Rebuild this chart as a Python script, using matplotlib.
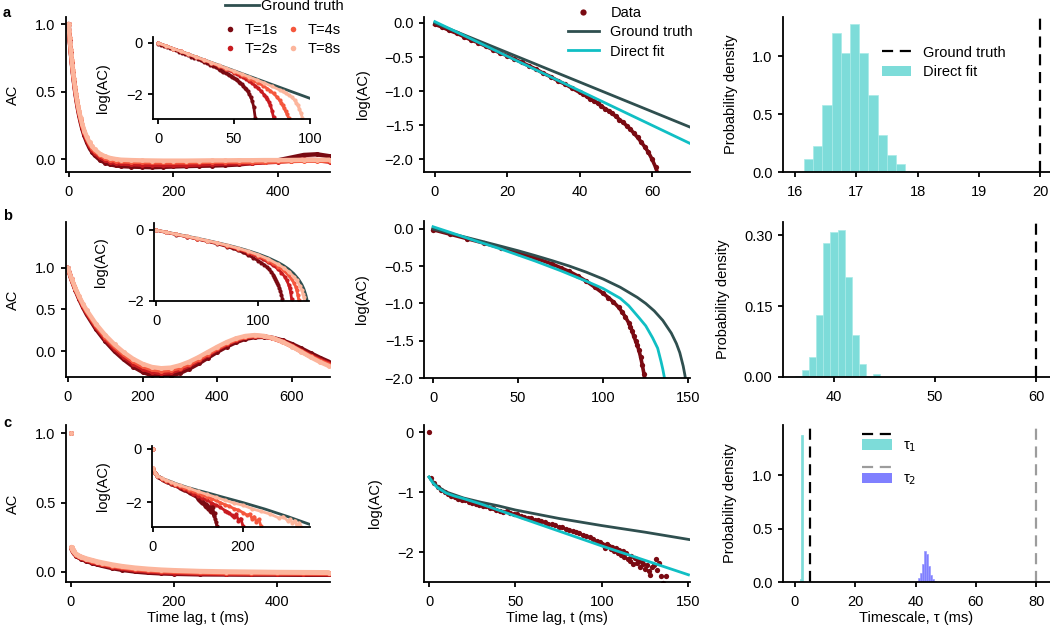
import matplotlib
matplotlib.use("Agg")
from matplotlib import pyplot as plt
from matplotlib.lines import Line2D
from matplotlib.patches import Patch, Rectangle
from matplotlib.legend_handler import HandlerBase
import numpy as np


plt.rcParams['font.family'] = ['Liberation Sans', 'DejaVu Sans']
plt.rcParams['font.size'] = 10
plt.rcParams['axes.linewidth'] = 1.3
plt.rcParams['xtick.major.width'] = 1.3
plt.rcParams['ytick.major.width'] = 1.3
plt.rcParams['xtick.major.size'] = 3.5
plt.rcParams['ytick.major.size'] = 3.5
plt.rcParams['xtick.labelsize'] = 10.5
plt.rcParams['ytick.labelsize'] = 10.5
plt.rcParams['axes.labelsize'] = 10.5
plt.rcParams['legend.fontsize'] = 10.5

W, H = 1050, 634

# colours
T_COLORS = ['#7a0a12', '#c81b20', '#f5573d', '#fcb59c']
T_LABELS = ['T=1s', 'T=2s', 'T=4s', 'T=8s']
GT_COLOR = '#2f4f4f'
FIT_COLOR = '#10bfc4'
HIST_CYAN = '#7ddcd9'
HIST_BLUE = '#8080ff'

# ---------------- row a : exponential, tau = 20 ms ----------------
LAG_A = [0, 1, 2, 3, 4, 5, 6, 7, 8, 9, 10, 12, 14, 16, 18, 20, 23, 26, 30, 35, 40, 45, 50,
         60, 70, 80, 90, 100, 120, 140, 160, 180, 200, 225, 250, 275, 300, 325, 350,
         375, 400, 425, 450, 475, 500]
AC_A_T1 = [1.0, .938, .888, .841, .797, .756, .716, .678, .642, .608, .577, .515, .461, .412,
           .368, .327, .274, .227, .175, .125, .083, .052, .028, -.006, -.027, -.04, -.047,
           -.052, -.056, -.058, -.06, -.058, -.055, -.052, -.05, -.048, -.045, -.04, -.03,
           -.02, -.01, .01, .03, .035, .02]
AC_A_T2 = [1.0, .941, .892, .846, .802, .762, .722, .685, .649, .616, .585, .524, .471, .423,
           .379, .339, .287, .241, .19, .141, .1, .07, .046, .013, -.008, -.02, -.028, -.033,
           -.038, -.041, -.043, -.045, -.046, -.044, -.04, -.036, -.033, -.032, -.03, -.025,
           -.02, -.012, -.005, -.008, -.02]
AC_A_T4 = [1.0, .943, .895, .849, .806, .766, .727, .69, .655, .622, .591, .531, .479, .431,
           .388, .349, .297, .252, .202, .153, .113, .083, .06, .028, .008, -.005, -.012,
           -.017, -.02, -.022, -.024, -.025, -.025, -.024, -.022, -.02, -.019, -.02, -.021,
           -.02, -.018, -.015, -.012, -.012, -.015]
AC_A_T8 = [1.0, .945, .898, .852, .81, .77, .731, .694, .659, .627, .596, .537, .485, .437,
           .395, .356, .305, .261, .211, .162, .123, .093, .071, .039, .019, .007, .0, -.005,
           -.008, -.01, -.011, -.012, -.012, -.012, -.011, -.010, -.010, -.009, -.009, -.008,
           -.008, -.007, -.006, -.006, -.005]

LAG_A1 = [0, 2, 4, 6, 8, 10, 12, 14, 16, 18, 20, 22, 24, 26, 28, 30, 32, 34, 36, 38, 40,
          41, 42, 43, 44, 45, 46, 47, 48, 49, 50, 51, 52, 53, 54, 55, 56, 57, 58, 59, 60,
          61, 62, 63, 64]
LOG_A_T1 = [-0.02, -0.06, -0.11, -0.15, -0.2, -0.25, -0.29, -0.34, -0.39, -0.44, -0.48,
            -0.53, -0.58, -0.63, -0.68, -0.74, -0.79, -0.85, -0.9, -0.96, -1.02,
            -1.05, -1.08, -1.12, -1.15, -1.18, -1.22, -1.26, -1.29, -1.33, -1.37, -1.42,
            -1.46, -1.51, -1.56, -1.62, -1.68, -1.75, -1.82, -1.9, -2.0, -2.12, -2.28,
            -2.51, -2.95]
LAG_A2 = [0, 5, 10, 15, 20, 25, 30, 35, 40, 45, 50, 52, 54, 56, 58, 60, 62, 64, 66, 68, 70,
          71, 72, 73, 74, 75, 76]
LOG_A_T2 = [0, -0.11, -0.222, -0.333, -0.445, -0.56, -0.675, -0.79, -0.91, -1.035, -1.17,
            -1.23, -1.29, -1.35, -1.42, -1.5, -1.58, -1.68, -1.78, -1.9, -2.04, -2.12, -2.2,
            -2.32, -2.45, -2.65, -2.92]
LAG_A4 = [0, 5, 10, 15, 20, 25, 30, 35, 40, 45, 50, 55, 60, 63, 66, 69, 72, 74, 76, 78, 80,
          81, 82, 83, 84, 85, 86]
LOG_A_T4 = [0, -0.11, -0.22, -0.33, -0.44, -0.553, -0.665, -0.78, -0.895, -1.01, -1.13,
            -1.26, -1.4, -1.48, -1.57, -1.67, -1.79, -1.88, -1.98, -2.1, -2.25, -2.34, -2.45,
            -2.55, -2.68, -2.8, -2.95]
LAG_A8 = [0, 5, 10, 15, 20, 25, 30, 35, 40, 45, 50, 55, 60, 65, 70, 75, 80, 82, 84, 86, 88,
          90, 91, 92, 93, 94, 95]
LOG_A_T8 = [0, -0.109, -0.218, -0.327, -0.437, -0.546, -0.655, -0.765, -0.875, -0.99, -1.1,
            -1.215, -1.33, -1.45, -1.57, -1.7, -1.84, -1.9, -1.97, -2.04, -2.12, -2.25, -2.34,
            -2.45, -2.58, -2.75, -2.93]
GT_LAG_A = [0, 100]
GT_LOG_A = [0, -2.17]
FIT_LAG_A = [0, 70.5]
FIT_LOG_A = [0.02, -1.77]
HIST_A_EDGES = [16.15, 16.30, 16.45, 16.60, 16.75, 16.90, 17.05, 17.20, 17.35, 17.50, 17.65,
                17.80, 17.95]
HIST_A_DENS = [0.115, 0.224, 0.575, 1.20, 1.03, 1.28, 1.03, 0.664, 0.316, 0.147, 0.066, 0.008]
TAU_A_TRUE = 20

# ---------------- row b : oscillation ----------------
LAG_B = [0, 10, 20, 30, 40, 50, 75, 100, 125, 150, 175, 200, 225, 250, 275, 300, 325, 350,
         375, 400, 425, 450, 475, 500, 525, 550, 575, 600, 625, 650, 675, 700]
AC_B_T1 = [1.0, 0.855, 0.735, 0.628, 0.532, 0.446, 0.268, 0.122, 0.0, -0.1, -0.185, -0.248,
           -0.29, -0.305, -0.295, -0.262, -0.21, -0.148, -0.078, -0.008, 0.055, 0.108, 0.148,
           0.168, 0.172, 0.158, 0.128, 0.085, 0.032, -0.025, -0.08, -0.13]
AC_B_T2 = [1.0, 0.86, 0.744, 0.64, 0.547, 0.465, 0.292, 0.15, 0.03, -0.068, -0.15, -0.21,
           -0.248, -0.262, -0.252, -0.22, -0.172, -0.112, -0.045, 0.022, 0.082, 0.132, 0.166,
           0.18, 0.176, 0.154, 0.116, 0.065, 0.006, -0.053, -0.105, -0.15]
AC_B_T4 = [1.0, 0.864, 0.751, 0.649, 0.559, 0.479, 0.31, 0.172, 0.056, -0.04, -0.12, -0.18,
           -0.219, -0.234, -0.226, -0.197, -0.152, -0.095, -0.03, 0.035, 0.093, 0.14, 0.172,
           0.185, 0.178, 0.153, 0.112, 0.058, -0.003, -0.064, -0.118, -0.165]
AC_B_T8 = [1.0, 0.868, 0.757, 0.658, 0.571, 0.494, 0.328, 0.193, 0.08, -0.015, -0.093, -0.152,
           -0.19, -0.205, -0.198, -0.17, -0.127, -0.072, -0.01, 0.052, 0.108, 0.153, 0.182,
           0.193, 0.183, 0.156, 0.112, 0.055, -0.008, -0.072, -0.13, -0.18]

LAG_B1 = [0, 10, 20, 30, 40, 50, 60, 70, 75, 80, 85, 90, 95, 100, 103, 106, 109, 111, 113,
          115, 116, 117, 118, 119, 120, 121, 122, 123, 124, 125]
LOG_B_T1 = [-0.01, -0.07, -0.13, -0.19, -0.255, -0.32, -0.39, -0.47, -0.52, -0.57, -0.63,
            -0.7, -0.78, -0.865, -0.92, -0.98, -1.05, -1.11, -1.18, -1.26, -1.31, -1.37,
            -1.44, -1.5, -1.56, -1.63, -1.72, -1.83, -1.95, -2.1]
LAG_B2 = [0, 10, 20, 30, 40, 50, 60, 70, 80, 90, 100, 105, 110, 115, 120, 123, 126, 128, 130,
          131, 132, 133, 134]
LOG_B_T2 = [0, -0.066, -0.125, -0.187, -0.25, -0.31, -0.375, -0.45, -0.535, -0.635, -0.76,
            -0.83, -0.91, -1.0, -1.11, -1.2, -1.31, -1.41, -1.54, -1.63, -1.76, -1.95, -2.1]
LAG_B4 = [0, 10, 20, 30, 40, 50, 60, 70, 80, 90, 100, 110, 115, 120, 125, 130, 133, 135, 137,
          138, 139, 140, 141]
LOG_B_T4 = [0, -0.064, -0.122, -0.183, -0.245, -0.305, -0.37, -0.443, -0.523, -0.615, -0.725,
            -0.86, -0.94, -1.03, -1.14, -1.28, -1.39, -1.48, -1.6, -1.7, -1.82, -1.98, -2.1]
LAG_B8 = [0, 10, 20, 30, 40, 50, 60, 70, 80, 90, 100, 110, 120, 125, 130, 135, 138, 141, 143,
          144, 145, 146]
LOG_B_T8 = [0, -0.061, -0.119, -0.178, -0.238, -0.298, -0.363, -0.433, -0.508, -0.594,
            -0.695, -0.815, -0.97, -1.06, -1.17, -1.31, -1.42, -1.57, -1.7, -1.79, -1.9, -2.05]
GT_LAG_B = [0, 10, 20, 30, 40, 50, 60, 70, 80, 90, 100, 110, 120, 125, 130, 135, 140, 143,
            145, 147, 148, 149]
GT_LOG_B = [0, -0.058, -0.115, -0.173, -0.232, -0.292, -0.357, -0.425, -0.497, -0.579,
            -0.672, -0.782, -0.918, -1.0, -1.10, -1.227, -1.397, -1.537, -1.66, -1.84, -1.96,
            -2.11]
FIT_LAG_B = [0, 10, 25, 40, 50, 60, 75, 90, 100, 110, 115, 121, 125, 129, 132, 134, 135, 136,
             137]
FIT_LOG_B = [0.03, -0.045, -0.16, -0.27, -0.35, -0.43, -0.56, -0.70, -0.80, -0.93, -1.03,
             -1.19, -1.3, -1.46, -1.6, -1.78, -1.88, -2.0, -2.15]
HIST_B_EDGES = [36.15, 36.85, 37.55, 38.25, 38.95, 39.65, 40.35, 41.05, 41.75, 42.45, 43.15,
                43.85, 44.55]
HIST_B_DENS = [0.0015, 0.014, 0.043, 0.131, 0.283, 0.306, 0.311, 0.212, 0.088, 0.028, 0.002,
               0.0056]
TAU_B_TRUE = 60

# ---------------- row c : two timescales ----------------
LAG_C = [0, 1, 3, 5, 10, 15, 20, 30, 40, 50, 60, 80, 100, 125, 150, 175, 200, 250, 300, 350,
         400, 450, 500]
AC_C_T1 = [1.0, 0.173, 0.154, 0.14, 0.118, 0.106, 0.096, 0.081, 0.068, 0.057, 0.047, 0.03,
           0.017, 0.005, -0.003, -0.008, -0.011, -0.015, -0.016, -0.017, -0.017, -0.018, -0.018]
AC_C_T2 = [1.0, 0.175, 0.156, 0.143, 0.122, 0.111, 0.101, 0.087, 0.075, 0.064, 0.055, 0.039,
           0.026, 0.014, 0.006, 0.0, -0.004, -0.009, -0.011, -0.012, -0.012, -0.013, -0.014]
AC_C_T4 = [1.0, 0.176, 0.158, 0.145, 0.125, 0.114, 0.105, 0.091, 0.08, 0.07, 0.061, 0.046,
           0.034, 0.022, 0.014, 0.008, 0.004, -0.002, -0.005, -0.007, -0.008, -0.009, -0.01]
AC_C_T8 = [1.0, 0.178, 0.16, 0.148, 0.128, 0.117, 0.108, 0.095, 0.085, 0.075, 0.067, 0.052,
           0.04, 0.029, 0.021, 0.015, 0.011, 0.005, 0.002, 0.0, -0.002, -0.003, -0.004]

LAG_C1 = [0,
          1, 3, 5, 7, 9, 11, 13, 15, 17, 19, 21, 23, 25, 27, 29, 31, 33, 35, 37, 39,
          41, 43, 45, 47, 49, 51, 53, 55, 57, 59, 61, 63, 65, 67, 69, 71, 73, 75, 77, 79,
          81, 83, 85, 87, 89, 91, 93, 95, 97, 99,
          100, 101, 102, 103, 104, 105, 106, 107, 108, 109, 110, 111, 112, 113, 114, 115,
          116, 117, 118, 119, 120, 121, 122, 123, 124, 125, 126, 127, 128, 129, 130, 131,
          132, 133, 134, 135, 137, 138, 140, 142]
LOG_C_T1 = [0,
            -0.76, -0.85, -0.92, -0.96, -1.0, -1.04, -1.07, -1.09, -1.11, -1.13,
            -1.14, -1.16, -1.18, -1.2, -1.21, -1.23, -1.24, -1.26, -1.27, -1.30,
            -1.31, -1.33, -1.32, -1.35, -1.37, -1.37, -1.40, -1.41, -1.43, -1.44,
            -1.46, -1.47, -1.49, -1.50, -1.53, -1.54, -1.55, -1.58, -1.59, -1.61,
            -1.63, -1.65, -1.66, -1.69, -1.71, -1.74, -1.75, -1.79, -1.81, -1.83,
            -1.86, -1.88, -1.93, -1.87, -1.90, -1.95, -1.91, -1.98, -1.94, -2.02, -1.97,
            -2.05, -1.99, -2.08, -2.02, -2.12, -2.15, -2.06, -2.20, -2.10, -2.18, -2.14,
            -2.25, -2.17, -2.20, -2.28, -2.22, -2.32, -2.38, -2.25, -2.22, -2.12, -2.30,
            -2.18, -2.40, -2.52, -2.40, -2.62, -2.75, -2.92]
LAG_C2 = [0, 1, 5, 10, 20, 30, 40, 50, 60, 70, 80, 90, 100, 110, 120, 130, 140, 150, 160, 165,
          170, 175, 180, 185, 190, 195, 200]
LOG_C_T2 = [0, -0.74, -0.91, -1.02, -1.13, -1.21, -1.29, -1.37, -1.45, -1.52, -1.6, -1.68,
            -1.76, -1.85, -1.93, -2.02, -2.12, -2.2, -2.32, -2.36, -2.42, -2.5, -2.58, -2.45,
            -2.7, -2.62, -2.9]
LAG_C4 = [0, 1, 5, 10, 20, 30, 40, 50, 60, 70, 80, 90, 100, 110, 120, 130, 140, 150, 160, 170,
          180, 190, 200, 210, 215, 220, 225, 230, 235, 240]
LOG_C_T4 = [0, -0.73, -0.9, -1.01, -1.12, -1.2, -1.27, -1.34, -1.41, -1.47, -1.54, -1.6,
            -1.67, -1.73, -1.8, -1.87, -1.94, -2.02, -2.1, -2.16, -2.25, -2.3, -2.4, -2.5,
            -2.45, -2.62, -2.55, -2.75, -2.65, -2.9]
LAG_C8 = [0, 1, 5, 10, 20, 30, 40, 50, 60, 80, 100, 120, 140, 160, 180, 200, 220, 240, 260,
          280, 290, 300, 305, 310, 315, 320, 325, 330]
LOG_C_T8 = [0, -0.72, -0.9, -1.0, -1.11, -1.18, -1.25, -1.31, -1.37, -1.48, -1.6, -1.71,
            -1.82, -1.93, -2.04, -2.12, -2.25, -2.35, -2.45, -2.6, -2.55, -2.72, -2.65, -2.8,
            -2.7, -2.9, -2.78, -2.95]
GT_LAG_C = [0, 2, 5, 10, 15, 20, 30, 40, 50, 75, 100, 125, 150, 200, 250, 300, 350]
GT_LOG_C = [-0.75, -0.82, -0.91, -1.0, -1.05, -1.1, -1.17, -1.23, -1.3, -1.44, -1.56, -1.67,
            -1.79, -2.02, -2.27, -2.55, -2.85]
FIT_LAG_C = [0, 2, 5, 10, 15, 20, 30, 50, 75, 100, 125, 150]
FIT_LOG_C = [-0.75, -0.84, -0.93, -1.02, -1.07, -1.11, -1.2, -1.4, -1.65, -1.9, -2.14, -2.38]
TAU1_EDGES = [1.6, 2.0, 2.7]
TAU1_DENS = [0.03, 1.38]
TAU2_EDGES = [40.2, 40.85, 41.5, 42.15, 42.8, 43.45, 44.1, 44.75, 45.4, 46.05, 46.7]
TAU2_DENS = [0.01, 0.04, 0.08, 0.17, 0.29, 0.26, 0.15, 0.07, 0.03, 0.01]
TAU1_TRUE = 5
TAU2_TRUE = 80


fig = plt.figure(figsize=(W / 100, H / 100), dpi=100)


def px_axes(l, t, r, b):
    ax = fig.add_axes([l / W, 1 - b / H, (r - l) / W, (b - t) / H])
    ax.spines['top'].set_visible(False)
    ax.spines['right'].set_visible(False)
    ax.tick_params(direction='out')
    ax.tick_params(axis='x', pad=6)
    ax.tick_params(axis='y', pad=4)
    return ax


def ylabel_px(ax, text, x, y):
    ax.set_ylabel(text)
    ax.yaxis.set_label_coords(x / W, 1 - y / H, transform=fig.transFigure)


def xlabel_px(ax, text, x, y):
    ax.set_xlabel(text)
    ax.xaxis.set_label_coords(x / W, 1 - y / H, transform=fig.transFigure)


def bands(ax, lag, series, lw=3.2, ms=3.6, skip_first=False):
    for vals, col in zip(series, T_COLORS):
        start = 1 if skip_first else 0
        ax.plot(lag[start:], vals[start:], '-', color=col, lw=lw, solid_capstyle='round')
        ax.plot(lag, vals, 'o', color=col, ms=ms, mew=0)


def inset_dots(ax, lags, series, skip_first=False):
    for lag, vals, col in zip(lags, series, T_COLORS):
        start = 1 if skip_first else 0
        ax.plot(lag[start:], vals[start:], '-', color=col, lw=2.0, solid_capstyle='round')
        ax.plot(lag, vals, 'o', color=col, ms=3.0, mew=0)


def hist(ax, edges, dens, color, edge):
    ax.bar(edges[:-1], dens, width=np.diff(edges), align='edge', color=color,
           edgecolor=edge, linewidth=0.5)


def middle(ax, lag, vals, gt_lag, gt_vals, fit_lag, fit_vals, connect=True):
    if connect:
        ax.plot(lag, vals, '-', color=T_COLORS[0], lw=2.6)
    ax.plot(lag, vals, 'o', color=T_COLORS[0], ms=3.8, mew=0)
    ax.plot(gt_lag, gt_vals, '-', color=GT_COLOR, lw=2.0)
    ax.plot(fit_lag, fit_vals, '-', color=FIT_COLOR, lw=2.0)


dash = (0, (5, 3))

# ============ row a ============
axA1 = px_axes(66, 17, 330, 172)
bands(axA1, LAG_A, [AC_A_T1, AC_A_T2, AC_A_T4, AC_A_T8])
axA1.set_xlim(-5, 500)
axA1.set_ylim(-0.096, 1.052)
axA1.set_xticks([0, 200, 400])
axA1.set_yticks([0, 0.5, 1.0])
ylabel_px(axA1, 'AC', 20, 94.5)

axA1i = px_axes(153, 37, 310, 119)
axA1i.plot(GT_LAG_A, GT_LOG_A, '-', color=GT_COLOR, lw=2.0)
inset_dots(axA1i, [LAG_A1, LAG_A2, LAG_A4, LAG_A8], [LOG_A_T1, LOG_A_T2, LOG_A_T4, LOG_A_T8])
axA1i.set_xlim(-3.3, 100)
axA1i.set_ylim(-2.98, 0.235)
axA1i.set_xticks([0, 50, 100])
axA1i.set_yticks([-2, 0])
ylabel_px(axA1i, 'log(AC)', 110, 88)

axA2 = px_axes(424, 17, 690, 172)
middle(axA2, LAG_A1, LOG_A_T1, GT_LAG_A, GT_LOG_A, FIT_LAG_A, FIT_LOG_A)
axA2.set_xlim(-3, 70.5)
axA2.set_ylim(-2.19, 0.088)
axA2.set_xticks([0, 20, 40, 60])
axA2.set_yticks([-2.0, -1.5, -1.0, -0.5, 0.0])
ylabel_px(axA2, 'log(AC)', 370, 94.5)

axA3 = px_axes(783, 17, 1050, 172)
hist(axA3, HIST_A_EDGES, HIST_A_DENS, HIST_CYAN, '#a8ebe8')
axA3.axvline(TAU_A_TRUE, color='black', ls=dash, lw=1.6)
axA3.set_xlim(15.806, 20.16)
axA3.set_ylim(0, 1.34)
axA3.set_xticks([16, 17, 18, 19, 20])
axA3.set_yticks([0, 0.5, 1.0])
ylabel_px(axA3, 'Probability density', 738, 94.5)

# legends of row a
t_handles = [Line2D([], [], marker='o', ls='none', color=c, ms=4, mew=0) for c in T_COLORS]
fig.legend(handles=[Line2D([], [], color=GT_COLOR, lw=2.0)], labels=['Ground truth'],
           loc='center left', bbox_to_anchor=(225 / W, 1 - 6 / H), frameon=False,
           handlelength=2.35, handletextpad=0.15, borderpad=0, borderaxespad=0)
fig.legend(handles=t_handles, labels=T_LABELS, ncol=2, loc='center left',
           bbox_to_anchor=(223 / W, 1 - 39.5 / H), frameon=False, handlelength=1.0,
           handletextpad=0.5, columnspacing=0.5, labelspacing=0.3, borderpad=0,
           borderaxespad=0)
fig.legend(handles=[Line2D([], [], marker='o', ls='none', color=T_COLORS[0], ms=4.5, mew=0),
                    Line2D([], [], color=GT_COLOR, lw=2.0),
                    Line2D([], [], color=FIT_COLOR, lw=2.0)],
           labels=['Data', 'Ground truth', 'Direct fit'], loc='center left',
           bbox_to_anchor=(568 / W, 1 - 32.5 / H), frameon=False, handlelength=2.1,
           handletextpad=0.8, labelspacing=0.35, borderpad=0, borderaxespad=0)
fig.legend(handles=[Line2D([], [], color='black', ls=dash, lw=1.6),
                    Patch(facecolor=HIST_CYAN, edgecolor='none')],
           labels=['Ground truth', 'Direct fit'], loc='center left',
           bbox_to_anchor=(882 / W, 1 - 62.5 / H), frameon=False, handlelength=2.0,
           handletextpad=0.8, labelspacing=0.4, borderpad=0, borderaxespad=0)

# ============ row b ============
axB1 = px_axes(66, 222, 330, 377)
bands(axB1, LAG_B, [AC_B_T1, AC_B_T2, AC_B_T4, AC_B_T8])
axB1.set_xlim(-5, 702)
axB1.set_ylim(-0.31, 1.55)
axB1.set_xticks([0, 200, 400, 600])
axB1.set_yticks([0, 0.5, 1.0])
ylabel_px(axB1, 'AC', 20, 299.5)

axB1i = px_axes(154, 223, 309, 301)
axB1i.plot(GT_LAG_B, GT_LOG_B, '-', color=GT_COLOR, lw=2.0)
inset_dots(axB1i, [LAG_B1, LAG_B2, LAG_B4, LAG_B8], [LOG_B_T1, LOG_B_T2, LOG_B_T4, LOG_B_T8])
axB1i.set_xlim(-2, 150)
axB1i.set_ylim(-2.0, 0.197)
axB1i.set_xticks([0, 100])
axB1i.set_yticks([-2, 0])
ylabel_px(axB1i, 'log(AC)', 108, 262)

axB2 = px_axes(424, 221, 690, 378)
middle(axB2, LAG_B1, LOG_B_T1, GT_LAG_B, GT_LOG_B, FIT_LAG_B, FIT_LOG_B)
axB2.set_xlim(-5.3, 151)
axB2.set_ylim(-2.0, 0.107)
axB2.set_xticks([0, 50, 100, 150])
axB2.set_yticks([-2.0, -1.5, -1.0, -0.5, 0.0])
ylabel_px(axB2, 'log(AC)', 369, 299.5)

axB3 = px_axes(783, 222, 1050, 377)
hist(axB3, HIST_B_EDGES, HIST_B_DENS, HIST_CYAN, '#a8ebe8')
axB3.axvline(TAU_B_TRUE, color='black', ls=dash, lw=1.6)
axB3.set_xlim(34.95, 61.39)
axB3.set_ylim(0, 0.3277)
axB3.set_xticks([40, 50, 60])
axB3.set_yticks([0, 0.15, 0.30])
axB3.set_yticklabels(['0.00', '0.15', '0.30'])
ylabel_px(axB3, 'Probability density', 730, 299.5)

# ============ row c ============
axC1 = px_axes(66, 425, 330, 582)
bands(axC1, LAG_C, [AC_C_T1, AC_C_T2, AC_C_T4, AC_C_T8], lw=3.6, skip_first=True)
axC1.set_xlim(-9.7, 502.9)
axC1.set_ylim(-0.072, 1.058)
axC1.set_xticks([0, 200, 400])
axC1.set_yticks([0, 0.5, 1.0])
ylabel_px(axC1, 'AC', 20, 503.5)
xlabel_px(axC1, 'Time lag, t (ms)', 198, 611)

axC1i = px_axes(152, 446, 310, 527)
axC1i.plot(GT_LAG_C, GT_LOG_C, '-', color=GT_COLOR, lw=2.0)
inset_dots(axC1i, [LAG_C1, LAG_C2, LAG_C4, LAG_C8], [LOG_C_T1, LOG_C_T2, LOG_C_T4, LOG_C_T8],
           skip_first=True)
axC1i.set_xlim(-2.2, 349)
axC1i.set_ylim(-2.94, 0.113)
axC1i.set_xticks([0, 200])
axC1i.set_yticks([-2, 0])
ylabel_px(axC1i, 'log(AC)', 110, 486)

axC2 = px_axes(424, 425, 690, 582)
middle(axC2, LAG_C1, LOG_C_T1, GT_LAG_C, GT_LOG_C, FIT_LAG_C, FIT_LOG_C, connect=False)
axC2.set_xlim(-2.9, 150.9)
axC2.set_ylim(-2.5, 0.117)
axC2.set_xticks([0, 50, 100, 150])
axC2.set_yticks([-2, -1, 0])
ylabel_px(axC2, 'log(AC)', 382, 503.5)
xlabel_px(axC2, 'Time lag, t (ms)', 557, 611)

axC3 = px_axes(783, 425, 1050, 582)
hist(axC3, TAU1_EDGES, TAU1_DENS, HIST_CYAN, HIST_CYAN)
hist(axC3, TAU2_EDGES, TAU2_DENS, HIST_BLUE, '#9a9aff')
axC3.axvline(TAU1_TRUE, color='black', ls=dash, lw=1.6)
axC3.axvline(TAU2_TRUE, color='#9c9c9c', ls=dash, lw=1.6)
axC3.set_xlim(-3.98, 84.6)
axC3.set_ylim(0, 1.474)
axC3.set_xticks([0, 20, 40, 60, 80])
axC3.set_yticks([0, 0.5, 1.0])
ylabel_px(axC3, 'Probability density', 737, 503.5)
xlabel_px(axC3, 'Timescale, τ (ms)', 916, 611)


class DashOverPatch(HandlerBase):
    # dashed true-value line drawn just above the histogram swatch
    def create_artists(self, legend, orig_handle, xdescent, ydescent, width, height,
                       fontsize, trans):
        line, patch = orig_handle
        y_line = height + 0.4 * fontsize - ydescent
        ln = Line2D([-xdescent, -xdescent + width], [y_line, y_line])
        ln.update_from(line)
        ln.set_transform(trans)
        rect = Rectangle((-xdescent, -ydescent), width, height,
                         facecolor=patch.get_facecolor(), edgecolor='none', transform=trans)
        return [ln, rect]


tau_handles = [(Line2D([], [], color='black', ls=dash, lw=1.6),
                Patch(facecolor=HIST_CYAN)),
               (Line2D([], [], color='#9c9c9c', ls=dash, lw=1.6),
                Patch(facecolor=HIST_BLUE))]
fig.legend(handles=tau_handles, labels=['τ$_1$', 'τ$_2$'], handler_map={tuple: DashOverPatch()},
           loc='center left', bbox_to_anchor=(862 / W, 1 - 463 / H), frameon=False,
           handlelength=2.05, handletextpad=0.75, labelspacing=1.2, borderpad=0,
           borderaxespad=0)

# panel letters
for letter, y in zip(['a', 'b', 'c'], [13, 216, 423]):
    fig.text(3 / W, 1 - y / H, letter, fontweight='bold', fontsize=10.5, va='center',
             ha='left')

fig.savefig('out.png', dpi=100)
